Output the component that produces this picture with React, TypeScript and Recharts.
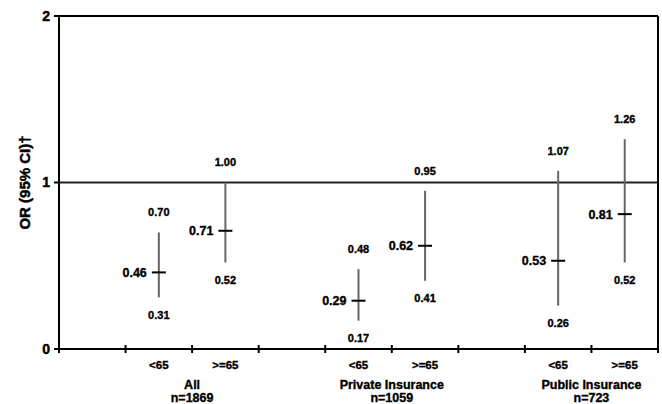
import React from 'react';
import { ComposedChart, Scatter, XAxis, YAxis, ReferenceLine, ErrorBar } from 'recharts';

const subgroupLabels = ['<65', '>=65', '<65', '>=65', '<65', '>=65'];
const subgroupPositions = [1.5, 2.5, 4.5, 5.5, 7.5, 8.5];
const oddsRatios = [0.46, 0.71, 0.29, 0.62, 0.53, 0.81];
const ciLow = [0.31, 0.52, 0.17, 0.41, 0.26, 0.52];
const ciHigh = [0.7, 1.0, 0.48, 0.95, 1.07, 1.26];
const groupNames = ['All', 'Private Insurance', 'Public Insurance'];
const groupSizes = ['n=1869', 'n=1059', 'n=723'];
const groupPositions = [2, 5, 8];
const boundaryTicks = [0, 1, 2, 3, 4, 5, 6, 7, 8, 9];
const yTicks = [0, 1, 2];

const data = subgroupPositions.map((pos, i) => ({
  pos,
  or: oddsRatios[i],
  lo: ciLow[i],
  hi: ciHigh[i],
  err: [oddsRatios[i] - ciLow[i], ciHigh[i] - oddsRatios[i]],
}));

const xTicks = Array.from(new Set([...boundaryTicks, ...subgroupPositions])).sort((a, b) => a - b);

const FONT = '"Liberation Sans", Arial, sans-serif';
const BOLD = { fontFamily: FONT, fontWeight: 'bold' as const, fill: '#000', stroke: '#000', strokeWidth: 0.35 };

const XTick = (props: any) => {
  const { x, y, payload } = props;
  const v = payload.value;
  const si = subgroupPositions.indexOf(v);
  const gi = groupPositions.indexOf(v);
  const isBoundary = boundaryTicks.includes(v);
  return (
    <g>
      {isBoundary && <line x1={x} x2={x} y1={y - 4} y2={y + 4} stroke="#000" strokeWidth={2} />}
      {si >= 0 && (
        <text x={x} y={y + 20} textAnchor="middle" fontSize={11.5} {...BOLD}>
          {subgroupLabels[si]}
        </text>
      )}
      {gi >= 0 && (
        <text textAnchor="middle" fontSize={12.5} {...BOLD}>
          <tspan x={x} y={y + 40}>{groupNames[gi]}</tspan>
          <tspan x={x} y={y + 53}>{groupSizes[gi]}</tspan>
        </text>
      )}
    </g>
  );
};

const EstimateShape = (props: any) => {
  const { cx, cy, payload } = props;
  return (
    <g>
      <line x1={cx - 7} x2={cx + 7} y1={cy} y2={cy} stroke="#000" strokeWidth={2} />
      <text x={cx - 12} y={cy} dy="0.36em" textAnchor="end" fontSize={12.5} {...BOLD}>
        {payload.or.toFixed(2)}
      </text>
    </g>
  );
};

const HighShape = (props: any) => {
  const { cx, cy, payload } = props;
  return (
    <text x={cx} y={cy - 20} dy="0.36em" textAnchor="middle" fontSize={11} {...BOLD}>
      {payload.hi.toFixed(2)}
    </text>
  );
};

const LowShape = (props: any) => {
  const { cx, cy, payload } = props;
  return (
    <text x={cx} y={cy + 17.5} dy="0.36em" textAnchor="middle" fontSize={11} {...BOLD}>
      {payload.lo.toFixed(2)}
    </text>
  );
};

const YLabel = (props: any) => {
  const vb = props.viewBox || { x: 0, y: 16, width: 59, height: 333 };
  const x = vb.x + 24.5;
  const y = vb.y + vb.height / 2;
  return (
    <text
      x={x}
      y={y}
      dy="0.36em"
      transform={`rotate(-90, ${x}, ${y})`}
      textAnchor="middle"
      fontSize={15}
      {...BOLD}
      strokeWidth={0.45}
    >
      OR (95% CI)†
    </text>
  );
};

export default function App() {
  return (
    <div style={{ position: 'absolute', left: 0, top: 0, background: '#fff' }}>
      <ComposedChart width={662} height={404} data={data} margin={{ top: 16, right: 4, bottom: 0, left: 0 }}>
        <XAxis
          dataKey="pos"
          type="number"
          domain={[0, 9]}
          ticks={xTicks}
          interval={0}
          tick={<XTick />}
          tickLine={false}
          tickSize={0}
          tickMargin={0}
          height={55}
          axisLine={{ stroke: '#000', strokeWidth: 2 }}
          allowDataOverflow
        />
        <YAxis
          type="number"
          domain={[0, 2]}
          ticks={yTicks}
          width={59}
          tickSize={5}
          tickMargin={4}
          axisLine={{ stroke: '#000', strokeWidth: 2 }}
          tickLine={{ stroke: '#000', strokeWidth: 2 }}
          tick={{ fill: '#000', stroke: '#000', strokeWidth: 0.45, fontSize: 14, fontWeight: 'bold', fontFamily: FONT }}
          label={<YLabel />}
        />
        <ReferenceLine y={2} stroke="#000" strokeWidth={2} />
        <ReferenceLine x={9} stroke="#000" strokeWidth={2} />
        <ReferenceLine y={1} stroke="#222" strokeWidth={2} />
        <Scatter dataKey="hi" shape={<HighShape />} isAnimationActive={false} />
        <Scatter dataKey="lo" shape={<LowShape />} isAnimationActive={false} />
        <Scatter dataKey="or" shape={<EstimateShape />} isAnimationActive={false}>
          <ErrorBar dataKey="err" direction="y" width={0} stroke="#666" strokeWidth={2} />
        </Scatter>
      </ComposedChart>
    </div>
  );
}
